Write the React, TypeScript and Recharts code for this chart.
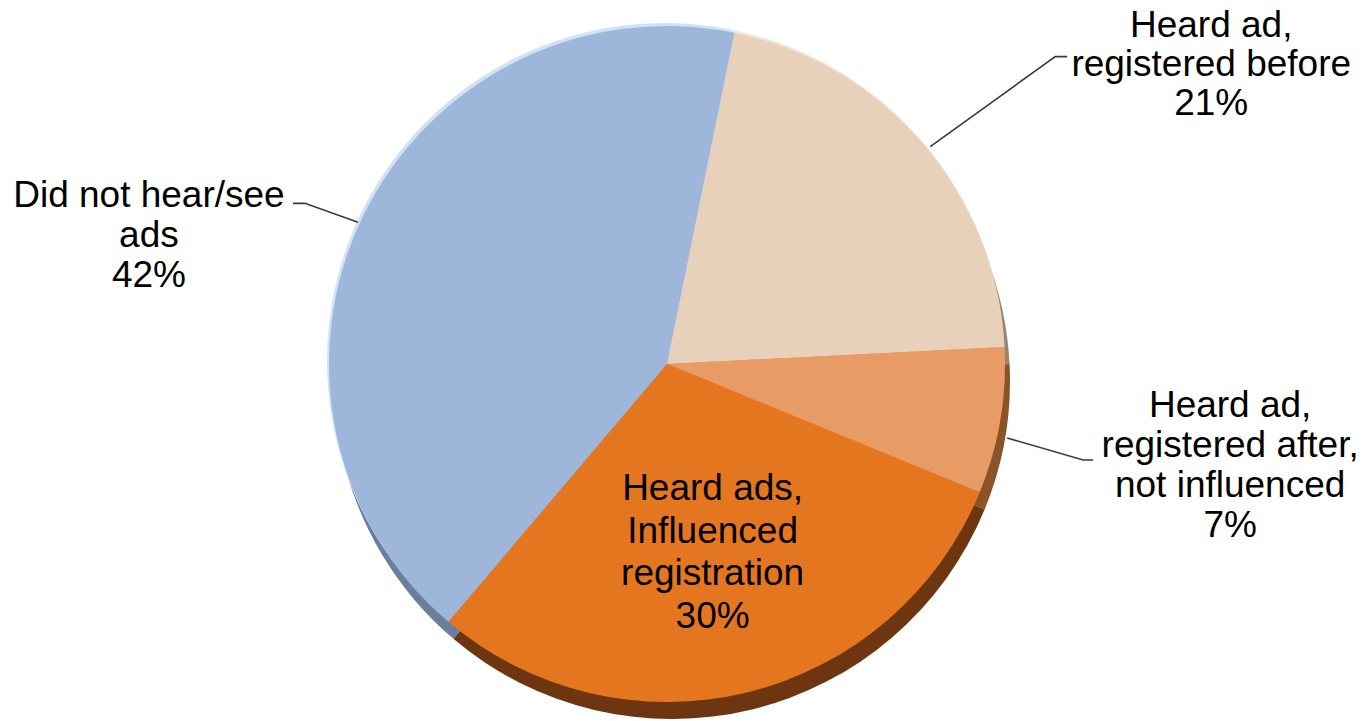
import React from "react";
import { PieChart, Pie, Cell } from "recharts";

const categories = [
  "Heard ad, registered before",
  "Heard ad, registered after, not influenced",
  "Heard ads, Influenced registration",
  "Did not hear/see ads",
];
const values = [21, 7, 30, 42];
const labelText = [
  ["Heard ad,", "registered before"],
  ["Heard ad,", "registered after,", "not influenced"],
  ["Heard ads,", "Influenced", "registration"],
  ["Did not hear/see", "ads"],
];
const faceColors = ["#E8D1BA", "#E89B65", "#E57620", "#9DB6D9"];
const sideColors = ["#9C8570", "#8A5328", "#6E3610", "#6B7F9C"];
const rimColors = ["#F3E6DA", "#E89B65", "#E57620", "#CFE3F8"];

const data = categories.map((name, i) => ({ name, value: values[i] }));

const CX = 667;
const CY = 364;
const R = 338;
const START = 78.5;
const FONT = "Liberation Sans, Arial, sans-serif";
const FS = 37;

// label layout: offsets relative to the slice's arc point (outside labels) or inner anchor
const layout = [
  { kind: "out", start: [7, 3], elbow: [132, -87], end: [144, -87], text: [288, -107], gap: 39 },
  { kind: "out", start: [7, 17], elbow: [83, 39], end: [93, 39], text: [230, -4], gap: 40 },
  { kind: "in", text: [0, -51], gap: 42.5 },
  { kind: "out", start: [-5, 6], elbow: [-58, -13], end: [-70, -13], text: [-214, -9], gap: 40 },
];

const RAD = Math.PI / 180;

function renderLabel(props: any) {
  const { cx, cy, midAngle, outerRadius, index } = props;
  const L = layout[index];
  const lines = [...labelText[index], `${values[index]}%`];
  if (L.kind === "in") {
    const ax = cx + outerRadius * 0.57 * Math.cos(-midAngle * RAD);
    const ay = cy + outerRadius * 0.57 * Math.sin(-midAngle * RAD);
    return (
      <g key={`lbl-${index}`}>
        {lines.map((t, k) => (
          <text
            key={k}
            x={ax + L.text[0]}
            y={ay + L.text[1] + k * L.gap}
            textAnchor="middle"
            fontFamily={FONT}
            fontSize={FS}
            fill="#000"
          >
            {t}
          </text>
        ))}
      </g>
    );
  }
  const px = cx + outerRadius * Math.cos(-midAngle * RAD);
  const py = cy + outerRadius * Math.sin(-midAngle * RAD);
  const s = L.start!;
  const e = L.elbow!;
  const n = L.end!;
  const pts = `${px + s[0]},${py + s[1]} ${px + e[0]},${py + e[1]} ${px + n[0]},${py + n[1]}`;
  return (
    <g key={`lbl-${index}`}>
      <polyline points={pts} fill="none" stroke="#3a3a3a" strokeWidth={1.6} />
      {lines.map((t, k) => (
        <text
          key={k}
          x={px + L.text[0]}
          y={py + L.text[1] + k * L.gap}
          textAnchor="middle"
          fontFamily={FONT}
          fontSize={FS}
          fill="#000"
        >
          {t}
        </text>
      ))}
    </g>
  );
}

export default function App() {
  return (
    <div style={{ position: "absolute", left: 0, top: 0, background: "#fff" }}>
      <PieChart width={1366} height={721} margin={{ top: 0, right: 0, bottom: 0, left: 0 }}>
        <Pie
          data={data}
          dataKey="value"
          cx={CX + 5}
          cy={CY + 17}
          outerRadius={R}
          startAngle={START}
          endAngle={START - 360}
          stroke="none"
          isAnimationActive={false}
          label={false}
          labelLine={false}
        >
          {data.map((d, i) => (
            <Cell key={i} fill={sideColors[i]} />
          ))}
        </Pie>
        <Pie
          data={data}
          dataKey="value"
          cx={CX - 2}
          cy={CY - 3}
          outerRadius={R}
          startAngle={START}
          endAngle={START - 360}
          stroke="none"
          isAnimationActive={false}
          label={false}
          labelLine={false}
        >
          {data.map((d, i) => (
            <Cell key={i} fill={rimColors[i]} />
          ))}
        </Pie>
        <Pie
          data={data}
          dataKey="value"
          cx={CX}
          cy={CY}
          outerRadius={R}
          startAngle={START}
          endAngle={START - 360}
          stroke="none"
          isAnimationActive={false}
          label={renderLabel}
          labelLine={false}
        >
          {data.map((d, i) => (
            <Cell key={i} fill={faceColors[i]} />
          ))}
        </Pie>
      </PieChart>
    </div>
  );
}
